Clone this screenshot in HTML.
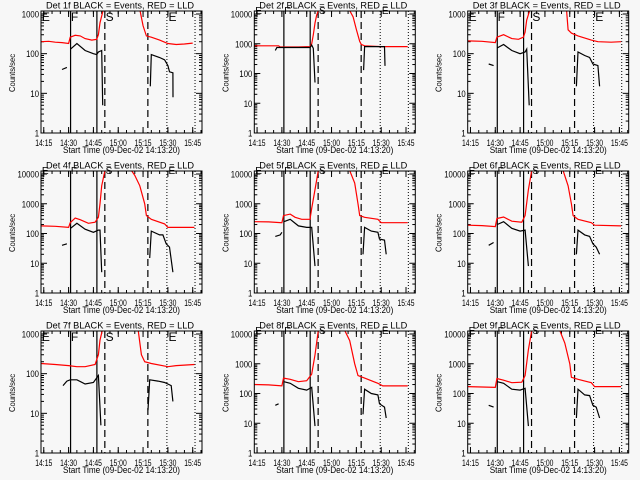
<!DOCTYPE html>
<html><head><meta charset="utf-8"><style>
body{margin:0;background:#f7f7f7;}
svg{display:block;}
text{font-family:"Liberation Sans",sans-serif;fill:#000;}
</style></head><body>
<svg id="chart" width="640" height="480" viewBox="0 0 640 480" xmlns="http://www.w3.org/2000/svg">
<rect x="0" y="0" width="640" height="480" fill="#f7f7f7"/>
</svg>
<script>
// time in minutes after 14:00
const xTickLabels = ["14:15","14:30","14:45","15:00","15:15","15:30","15:45"];
const xTickTimes = [15,30,45,60,75,90,105];
const detectors = ["1f","2f","3f","4f","5f","6f","7f","8f","9f"];
const yMaxDecade = [3,4,3,4,4,4,3,4,4];
const markerTimes = [31.2,47.1,51.9,77.9,89.4,106.4];
const markerStyles = ["solid","solid","dash","dash","dot","dot"];
const letterTimes = [14.5,32,53,91];
const letterText = ["E","F","S","E"];
// red (LLD) series: [time, counts]
const red1 = [[13.3,200],[18,205],[22,195],[26,190],[30,180],[31,260],[34,290],[37,280],[40,240],[44,220],[47,230],[48,300],[49,600],[51,1300],[73,1300],[75,500],[77,280],[80,260],[85,220],[90,180],[95,170],[100,175],[105,185]];
const red2 = [[13.3,850],[28,850],[29,780],[40,780],[47,800],[48,1000],[49,2000],[50,5000],[51,9000],[52,13000],[71,13000],[73,8000],[75,3000],[77,1200],[78,950],[80,850],[90,800],[106,800]];
const red3 = [[13.3,210],[22,205],[30,190],[31,260],[35,300],[40,240],[44,230],[47,260],[48,350],[49,700],[51,1300],[73,1300],[74,400],[76,330],[80,280],[88,220],[92,200],[100,195],[106,200]];
const red4 = [[13.3,180],[22,175],[30,160],[31,230],[34,330],[37,290],[42,220],[46,240],[48,350],[49,1000],[50,4000],[51.5,10000],[52,13000],[68,13000],[70,9000],[73,4000],[76,1000],[77,400],[80,300],[88,210],[90,160],[100,160],[106,160]];
const red5 = [[13.3,250],[22,245],[30,230],[31,400],[35,450],[38,350],[42,300],[47,300],[48,700],[50,3000],[52,13000],[71,13000],[74,5000],[76,1000],[77,400],[80,350],[88,300],[90,230],[106,230]];
const red6 = [[13.3,190],[22,185],[30,170],[31,320],[35,360],[40,260],[46,240],[48,400],[50,3000],[52,13000],[71,13000],[74,4000],[76,1000],[77,400],[80,300],[88,230],[90,190],[106,180]];
const red7 = [[13.3,180],[22,170],[30,160],[35,150],[40,150],[46,170],[48,300],[49,700],[50.5,1300],[72,1300],[74,300],[76,200],[80,180],[90,150],[95,160],[106,170]];
const red8 = [[13.3,200],[22,195],[30,180],[31,330],[35,300],[40,250],[45,270],[48,450],[50,2000],[52,13000],[68,13000],[71,6000],[74,1000],[76,400],[80,330],[88,220],[91,180],[106,180]];
const red9 = [[13.3,170],[22,165],[30,160],[31,320],[35,280],[40,230],[46,240],[48,400],[50,3000],[52,13000],[69,13000],[72,5000],[75,1000],[76,350],[80,300],[88,230],[90,170],[106,170]];
// black (events) series; null breaks segments
const blk1 = [[26,40],[29,45],null,[31.2,130],[35,180],[40,120],[45,100],[47,95],[48,110],[50,120],[50.6,5],null,[79.4,15],[80,95],[85,80],[88,70],[90,50],[91,35],[93,33],[93.1,8]];
const blk2 = [[26,600],[27,750],[47,750],[48,900],[49,700],[50,50],null,[79.4,130],[80,800],[92,800],[92.3,180]];
const blk3 = [[26,55],[29,50],null,[31.2,140],[35,170],[40,120],[45,100],[48,110],[49,130],[50.5,5],null,[79,15],[80,110],[84,90],[87,80],[89,55],[92,50],[93,15]];
const blk4 = [[26,40],[29,45],null,[31.2,150],[35,220],[40,140],[45,110],[48,130],[49,130],[50,5],null,[79,15],[80,120],[85,90],[87,90],[89,45],[91,35],[93,5]];
const blk5 = [[26,80],[29,90],[30,110],null,[31.2,250],[35,300],[40,180],[45,160],[48,160],[50,8],null,[79,20],[80,160],[84,120],[88,110],[89,65],[92,60],[93,20]];
const blk6 = [[26,40],[29,50],null,[31.2,200],[35,250],[40,150],[45,120],[48,130],[50,8],null,[79,20],[80,130],[84,90],[87,80],[89,45],[91,35],[93,20]];
const blk7 = [[26.6,50],[29,65],[31,70],[35,70],[40,55],[45,60],[48,90],[49.5,5],null,[78,12],[79,70],[84,65],[88,60],[92,50],[93,20]];
const blk8 = [[26,40],[28,45],null,[31.2,250],[35,220],[40,150],[45,130],[48,160],[50,8],null,[79,20],[80,140],[84,100],[88,90],[89,45],[92,35],[93,15]];
const blk9 = [[26,40],[29,35],null,[31.2,250],[35,220],[40,140],[45,130],[48,150],[50,8],null,[79,15],[80,140],[84,90],[87,85],[89,40],[91,35],[93,15]];
const redSeries = [red1,red2,red3,red4,red5,red6,red7,red8,red9];
const blackSeries = [blk1,blk2,blk3,blk4,blk5,blk6,blk7,blk8,blk9];

const NS = "http://www.w3.org/2000/svg";
const svg = document.getElementById("chart");
function mk(tag, attrs, parent){const e=document.createElementNS(NS,tag);for(const k in attrs)e.setAttribute(k,attrs[k]);parent.appendChild(e);return e;}

const L=41,R=202,T=11,B=133;
function xs(t){return L+(t-13.33)*1.655;}

detectors.forEach((det,i)=>{
  const ox=(i%3)*213.33, oy=Math.floor(i/3)*160;
  const g=mk("g",{transform:`translate(${ox.toFixed(1)},${oy})`},svg);
  
  
  const md=yMaxDecade[i];
  const dpx=(B-14)/md;
  const ys=v=>B-Math.log10(v)*dpx;
  const cp=mk("clipPath",{id:"c"+i},g);
  mk("rect",{x:L,y:T,width:R-L,height:B-T},cp);
  const tt=mk("text",{x:46,y:8.5,"font-size":"9.5",textLength:148,lengthAdjust:"spacingAndGlyphs"},g);
  tt.textContent=`Det ${det} BLACK = Events, RED = LLD`;
  
  
  const yl=mk("text",{x:0,y:0,"font-size":"8.5","text-anchor":"middle",textLength:38,lengthAdjust:"spacingAndGlyphs",transform:`translate(15,73) rotate(-90)`},g);
  yl.textContent="Counts/sec";
  
  
  const xl=mk("text",{x:63,y:153,"font-size":"9.5",textLength:117,lengthAdjust:"spacingAndGlyphs"},g);
  xl.textContent="Start Time (09-Dec-02 14:13:20)";
  
  
  for(let d=0; d<=md; d++){
    const y=ys(Math.pow(10,d));
    mk("line",{x1:L,y1:y,x2:L+6,y2:y,stroke:"#000"},g);
    mk("line",{x1:R,y1:y,x2:R-6,y2:y,stroke:"#000"},g);
    const s=String(Math.pow(10,d));
    const lb=mk("text",{x:L-2,y:y+3.5,"font-size":"9","text-anchor":"end",textLength:s.length*4.3,lengthAdjust:"spacingAndGlyphs"},g);
    lb.textContent=s;
    
    
    if(d<md){for(let m=2;m<=9;m++){const ym=ys(m*Math.pow(10,d));
      mk("line",{x1:L,y1:ym,x2:L+3,y2:ym,stroke:"#000"},g);
      mk("line",{x1:R,y1:ym,x2:R-3,y2:ym,stroke:"#000"},g);}}
  }
  xTickTimes.forEach((t,k)=>{
    const x=xs(t);
    mk("line",{x1:x,y1:B,x2:x,y2:B-6,stroke:"#000"},g);
    mk("line",{x1:x,y1:T,x2:x,y2:T+6,stroke:"#000"},g);
    const lb=mk("text",{x:x-8.5,y:146,"font-size":"9",textLength:17,lengthAdjust:"spacingAndGlyphs"},g);
    lb.textContent=xTickLabels[k];
    
    
  });
  for(let t=15;t<=110;t+=5){const x=xs(t);
    mk("line",{x1:x,y1:B,x2:x,y2:B-3,stroke:"#000"},g);
    mk("line",{x1:x,y1:T,x2:x,y2:T+3,stroke:"#000"},g);}
  markerTimes.forEach((t,k)=>{
    const x=xs(t);const st=markerStyles[k];
    const ln=mk("line",{x1:x,y1:T,x2:x,y2:B,stroke:"#000","stroke-width":st==="dot"?1:1.2,"stroke-dasharray":st==="dash"?"7,4":(st==="dot"?"1,2":"none")},g);
    
    
  });
  letterTimes.forEach((t,k)=>{
    const lt=mk("text",{x:xs(t)-1,y:md===3?21:14,"font-size":md===3?"12":"10"},g);
    lt.textContent=letterText[k];
    
    
  });
  const rp=redSeries[i].map((p,j)=>(j?"L":"M")+xs(p[0]).toFixed(1)+","+ys(p[1]).toFixed(1)).join("");
  const rl=mk("path",{d:rp,fill:"none",stroke:"#ff0000","stroke-width":1.2,"clip-path":`url(#c${i})`},g);
  
  
  let bp="",start=true;
  blackSeries[i].forEach(p=>{if(p===null){start=true;return;}bp+=(start?"M":"L")+xs(p[0]).toFixed(1)+","+ys(p[1]).toFixed(1);start=false;});
  const bl=mk("path",{d:bp,fill:"none",stroke:"#000","stroke-width":1.2,"clip-path":`url(#c${i})`},g);
  
  
  const fr=mk("rect",{x:L,y:T,width:R-L,height:B-T,fill:"none",stroke:"#000"},g);
  
  
});
</script>
</body></html>
